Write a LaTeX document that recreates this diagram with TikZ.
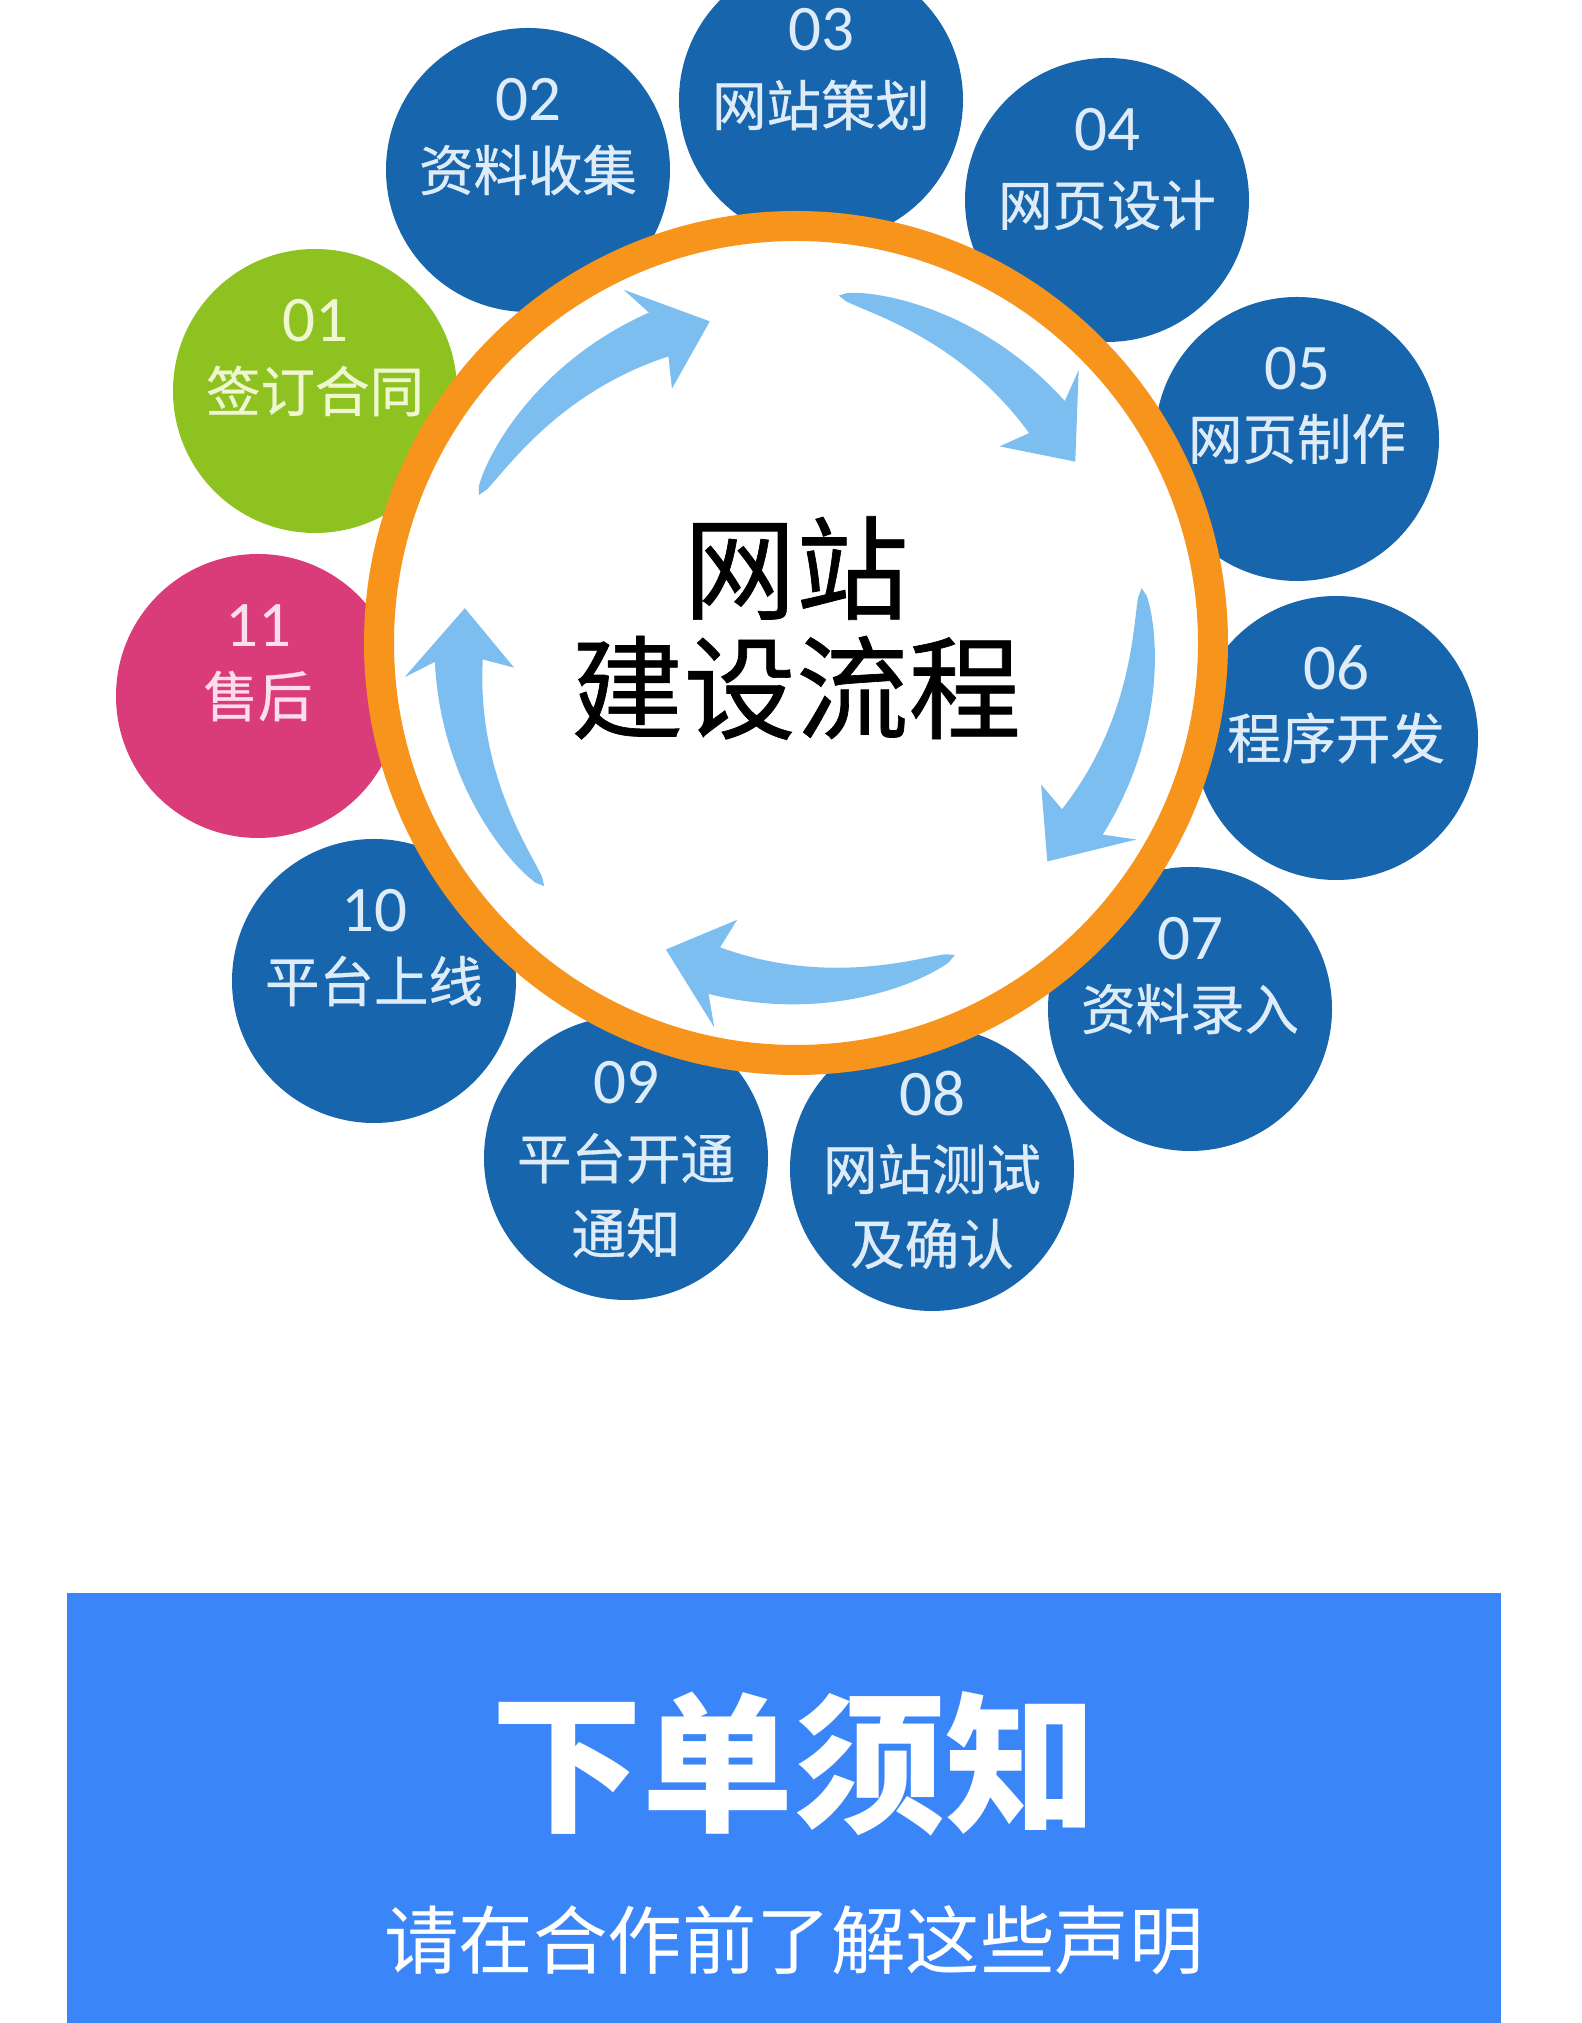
\documentclass[tikz,border=0pt]{standalone}
\usepackage{fontspec}
\setmainfont{Carlito}
\newfontfamily\cjk{Noto Sans CJK SC}
\newfontfamily\cjkmid{Noto Sans CJK SC}[FakeBold=0.6]

\definecolor{steel}{RGB}{23,101,173}
\definecolor{leaf}{RGB}{141,194,33}
\definecolor{rose}{RGB}{218,60,122}
\definecolor{amber}{RGB}{246,148,28}
\definecolor{sky}{RGB}{125,190,240}
\definecolor{banner}{RGB}{58,134,248}
\definecolor{pale}{RGB}{222,235,248}
\definecolor{paleleaf}{RGB}{238,247,208}
\definecolor{palerose}{RGB}{251,222,234}

\begin{document}
\begin{tikzpicture}[
    disc/.style={circle, fill=steel, minimum size=2.84cm, inner sep=0pt},
    num/.style={font=\fontsize{18.5}{20}\selectfont, text=pale, inner sep=0pt},
    word/.style={font=\cjkmid\fontsize{15.5}{21.3}\selectfont, text=pale,
        align=center, inner sep=0pt},
    hub/.style={circle, draw=amber, line width=3mm, fill=white,
        minimum size=8.34cm, inner sep=0pt},
    core/.style={font=\cjkmid\fontsize{32}{34}\selectfont, align=center},
    panel/.style={fill=banner, minimum width=14.34cm, minimum height=4.3cm,
        inner sep=0pt},
    turn/.pic={
        \fill[sky] plot[domain=0:41, samples=30]
                ({-\x}:{3.5-0.003*\x+0.24*sqrt(\x/41)})
            -- (-39:3.93) -- (-50:3.33) -- (-39:2.83)
            -- plot[domain=41:0, samples=30]
                ({-\x}:{3.5-0.003*\x-0.24*sqrt(\x/41)}) -- cycle;
    }
]
    \clip (0,0) rectangle (15.81,20.23);
    \fill[white] (0,0) rectangle (15.81,20.23);

    % steps round the ring
    \node[disc, fill=leaf] (s1) at (3.15,16.32) {};
    \node[disc] (s2) at (5.28,18.53) {};
    \node[disc] (s3) at (8.21,19.23) {};
    \node[disc] (s4) at (11.07,18.23) {};
    \node[disc] (s5) at (12.97,15.84) {};
    \node[disc] (s6) at (13.36,12.85) {};
    \node[disc] (s7) at (11.90,10.14) {};
    \node[disc] (s8) at (9.32,8.54) {};
    \node[disc] (s9) at (6.26,8.65) {};
    \node[disc] (s10) at (3.74,10.42) {};
    \node[disc, fill=rose] (s11) at (2.58,13.27) {};

    \node[hub] (hub) at (7.96,13.80) {};

    % arrows inside the ring
    \pic[rotate=155] at (hub) {turn};
    \pic[rotate=83] at (hub) {turn};
    \pic[rotate=9] at (hub) {turn};
    \pic[rotate=-63] at (hub) {turn};
    \pic[rotate=-136] at (hub) {turn};

    \node[core] (core) at ([yshift=1.5mm]hub) {网站\\建设流程};

    \node[num, text=paleleaf] (n1) at ([yshift=7mm]s1) {01};
    \node[word, text=paleleaf] (t1) at (s1) {签订合同};
    \node[num] (n2) at ([yshift=7mm]s2) {02};
    \node[word] (t2) at (s2) {资料收集};
    \node[num] (n3) at ([yshift=7mm]s3) {03};
    \node[word] (t3) at ([yshift=-0.5mm]s3) {网站策划};
    \node[num] (n4) at ([yshift=7mm]s4) {04};
    \node[word] (t4) at ([yshift=-0.5mm]s4) {网页设计};
    \node[num] (n5) at ([yshift=7mm]s5) {05};
    \node[word] (t5) at (s5) {网页制作};
    \node[num] (n6) at ([yshift=7mm]s6) {06};
    \node[word] (t6) at (s6) {程序开发};
    \node[num] (n7) at ([yshift=7mm]s7) {07};
    \node[word] (t7) at (s7) {资料录入};
    \node[num] (n8) at ([yshift=7.5mm]s8) {08};
    \node[word] (t8) at ([yshift=-3.75mm]s8) {网站测试\\及确认};
    \node[num] (n9) at ([yshift=7.5mm]s9) {09};
    \node[word] (t9) at ([yshift=-3.75mm]s9) {平台开通\\通知};
    \node[num] (n10) at ([yshift=7mm]s10) {10};
    \node[word] (t10) at (s10) {平台上线};
    \node[num, text=palerose] (n11) at ([yshift=7mm]s11) {11};
    \node[word, text=palerose] (t11) at (s11) {售后};

    % notice banner
    \node[panel] (panel) at (7.84,2.15) {};
    \node[font=\cjk\bfseries\fontsize{43}{46}\selectfont, text=white] (notice)
        at (7.94,2.59) {下单须知};
    \node[font=\cjk\fontsize{21.2}{24}\selectfont, text=white] (hint)
        at (7.94,0.83) {请在合作前了解这些声明};
\end{tikzpicture}
\end{document}
